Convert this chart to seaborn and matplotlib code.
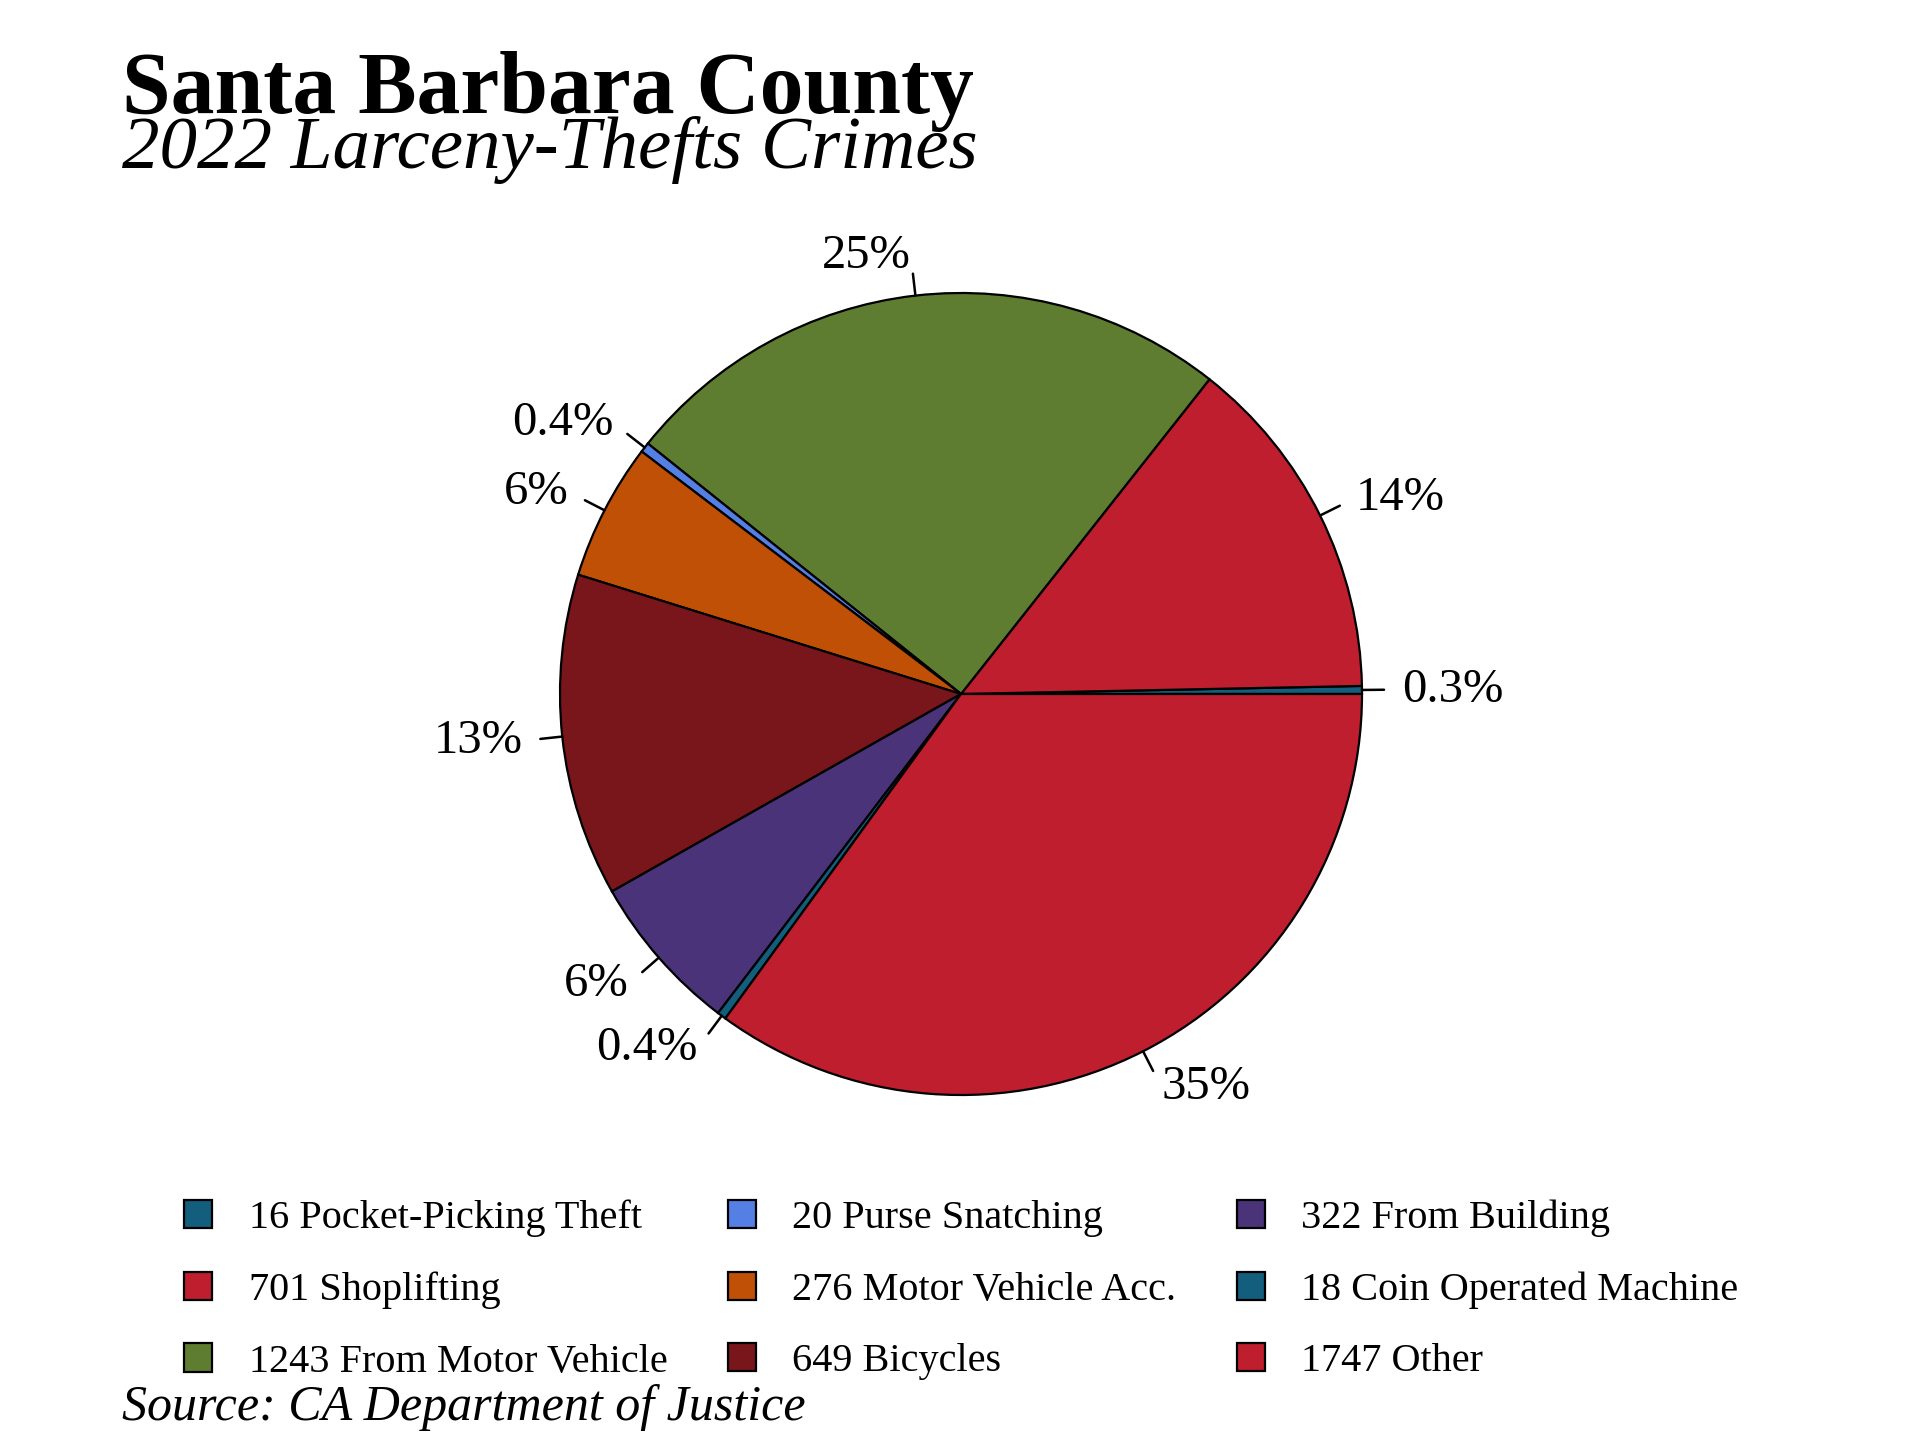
import numpy as np
import matplotlib
matplotlib.use("Agg")
import matplotlib.pyplot as plt
import seaborn as sns

# Larceny-theft counts, Santa Barbara County 2022
categories = ["Pocket-Picking Theft", "Shoplifting", "From Motor Vehicle",
              "Purse Snatching", "Motor Vehicle Acc.", "Bicycles",
              "From Building", "Coin Operated Machine", "Other"]
counts = [16, 701, 1243, 20, 276, 649, 322, 18, 1747]
colors = ["#135d7d", "#be1e2d", "#5e7d31", "#5480e6", "#c05006",
          "#79161c", "#4b337a", "#135d7d", "#be1e2d"]

sns.set_theme(style="white")
plt.rcParams["font.family"] = ["Liberation Serif", "DejaVu Serif"]
plt.rcParams["text.color"] = "black"

total = sum(counts)
pct_labels = []
for c in counts:
    p = 100 * c / total
    pct_labels.append(f"{p:.1f}%" if p < 1 else f"{p:.0f}%")

fig = plt.figure(figsize=(19.2, 14.4), dpi=100)
# pie axes: centre at (961, 694) px, radius ~401 px
ax = fig.add_axes([(961 - 401) / 1920, (1440 - 694 - 401) / 1440, 802 / 1920, 802 / 1440])

wedges, texts = ax.pie(counts, colors=sns.color_palette(colors), startangle=0,
                       counterclock=True, labels=pct_labels, labeldistance=1.10,
                       wedgeprops=dict(edgecolor="black", linewidth=1.6),
                       textprops=dict(fontsize=35, color="black"))
ax.set_xlim(-1, 1)
ax.set_ylim(-1, 1)

# small leader ticks at each label
for w in wedges:
    mid = np.deg2rad((w.theta1 + w.theta2) / 2)
    ax.plot([np.cos(mid), 1.055 * np.cos(mid)], [np.sin(mid), 1.055 * np.sin(mid)],
            color="black", lw=1.8, clip_on=False)

for t in texts:
    t.set_clip_on(False)

handles_labels = [f"{c} {n}" for c, n in zip(counts, categories)]
leg = fig.legend(wedges, handles_labels, ncol=3, loc="upper left",
                 bbox_to_anchor=(0.077, 0.192), frameon=False, fontsize=29,
                 handlelength=0.7, handleheight=0.7, handletextpad=0.9,
                 columnspacing=1.5, labelspacing=0.85)
for h in leg.legend_handles:
    h.set_linewidth(1.6)

fig.text(122 / 1920, 1 - 113 / 1440, "Santa Barbara County", fontsize=63,
         fontweight="bold", ha="left", va="baseline")
fig.text(122 / 1920, 1 - 168 / 1440, "2022 Larceny-Thefts Crimes", fontsize=54,
         fontstyle="italic", ha="left", va="baseline")
fig.text(122 / 1920, 1 - 1420 / 1440, "Source: CA Department of Justice", fontsize=36,
         fontstyle="italic", ha="left", va="baseline")

fig.savefig("out.png", dpi=100)
